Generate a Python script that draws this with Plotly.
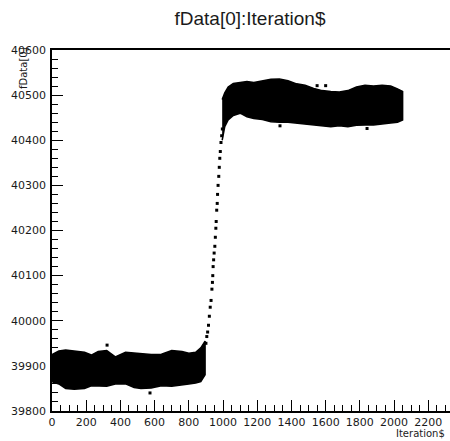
import plotly.graph_objects as go

# ---- data ----
# low plateau envelope (Iteration$, upper and lower fData[0])
low_x = [0, 40, 80, 130, 190, 230, 270, 320, 370, 430, 480, 520, 580, 640, 700, 760, 800, 840, 870, 895]
low_upper = [39925, 39933, 39935, 39932, 39930, 39924, 39932, 39934, 39920, 39930,
             39928, 39926, 39925, 39926, 39934, 39932, 39928, 39930, 39940, 39955]
low_lower = [39865, 39860, 39850, 39848, 39850, 39856, 39856, 39855, 39860, 39860,
             39852, 39850, 39851, 39856, 39855, 39858, 39860, 39862, 39865, 39880]

# transition points
trans_x = [900, 905, 910, 915, 920, 925, 930, 935, 938, 940, 942, 945, 948, 952,
           955, 958, 960, 963, 966, 968, 971, 975, 978, 981, 984, 988, 992, 996]
trans_y = [39950, 39965, 39975, 39990, 40010, 40030, 40045, 40070, 40085, 40100,
           40120, 40135, 40150, 40165, 40185, 40205, 40220, 40245, 40260, 40280,
           40300, 40320, 40340, 40360, 40375, 40395, 40410, 40425]

# high plateau envelope
high_x = [995, 1010, 1030, 1060, 1100, 1140, 1180, 1230, 1280, 1330, 1380, 1430, 1480,
          1530, 1580, 1630, 1680, 1730, 1780, 1830, 1880, 1930, 1980, 2020, 2050]
high_upper = [40490, 40505, 40518, 40526, 40528, 40530, 40528, 40532, 40535, 40536,
              40532, 40525, 40522, 40515, 40510, 40508, 40507, 40510, 40518, 40522,
              40520, 40522, 40520, 40514, 40508]
high_lower = [40400, 40430, 40445, 40455, 40460, 40452, 40448, 40446, 40441, 40440,
              40440, 40438, 40437, 40434, 40432, 40430, 40432, 40430, 40433, 40434,
              40434, 40436, 40438, 40440, 40445]

# isolated outlier points
out_x = [322, 573, 1550, 1600, 1333, 1842]
out_y = [39946, 39840, 40521, 40521, 40432, 40426]

x_title = "Iteration$"
y_title = "fData[0]"
plot_title = "fData[0]:Iteration$"

W, H = 450, 441
L, R, T, B = 52, 0, 50, 30
PW, PH = W - L - R, H - T - B

def px_x(p):  # image pixel -> paper x
    return (p - L) / PW

def px_y(p):  # image pixel -> paper y
    return (H - B - p) / PH

fig = go.Figure()
for xs, up, lo in [(low_x, low_upper, low_lower), (high_x, high_upper, high_lower)]:
    fig.add_trace(go.Scatter(
        x=xs + xs[::-1], y=up + lo[::-1], mode="lines", fill="toself",
        fillcolor="black", line=dict(color="black", width=1.5),
        hoverinfo="skip", showlegend=False))
fig.add_trace(go.Scatter(
    x=trans_x + out_x, y=trans_y + out_y, mode="markers",
    marker=dict(symbol="square", size=3, color="black", line=dict(width=0)),
    showlegend=False))

tickfont = dict(family="DejaVu Sans", size=11, color="#1a1a1a")
fig.update_layout(
    width=W, height=H,
    margin=dict(l=L, r=R, t=T, b=B, pad=0, autoexpand=False),
    paper_bgcolor="white", plot_bgcolor="white",
    title=dict(text=plot_title, x=px_x(250), xref="paper",
               xanchor="center", y=1 - 18 / H, yanchor="middle",
               font=dict(family="Liberation Sans", size=19, color="#1a1a1a")),
    xaxis=dict(range=[0, 2327], dtick=200, tick0=0, ticks="inside", ticklen=11,
               tickwidth=1, tickcolor="black", showline=True, linecolor="black",
               linewidth=1.5, mirror=True, showgrid=False, zeroline=False,
               tickfont=tickfont, tickformat="d", automargin=False,
               minor=dict(dtick=50, ticks="inside", ticklen=6, tickcolor="black",
                          tickwidth=1, showgrid=False)),
    yaxis=dict(range=[39800, 40600], dtick=100, tick0=39800, ticks="inside",
               ticklen=11, tickwidth=1, tickcolor="black", showline=True,
               linecolor="black", linewidth=1.5, showgrid=False, zeroline=False,
               tickfont=tickfont, ticklabelstandoff=2, tickformat="d",
               automargin=False,
               minor=dict(dtick=20, ticks="inside", ticklen=6, tickcolor="black",
                          tickwidth=1, showgrid=False)),
    annotations=[
        dict(text=x_title, xref="paper", yref="paper",
             x=px_x(447), y=px_y(433),
             xanchor="right", yanchor="middle", showarrow=False,
             font=dict(family="DejaVu Sans", size=10, color="#1a1a1a")),
        dict(text=y_title, xref="paper", yref="paper",
             x=px_x(24), y=px_y(68),
             xanchor="center", yanchor="middle", textangle=-90, showarrow=False,
             font=dict(family="DejaVu Sans", size=10, color="#1a1a1a")),
    ],
)

fig.write_html(
    "out.html",
    config={"displayModeBar": False},
    post_script="document.body.style.margin='0';document.body.style.overflow='hidden';",
)
